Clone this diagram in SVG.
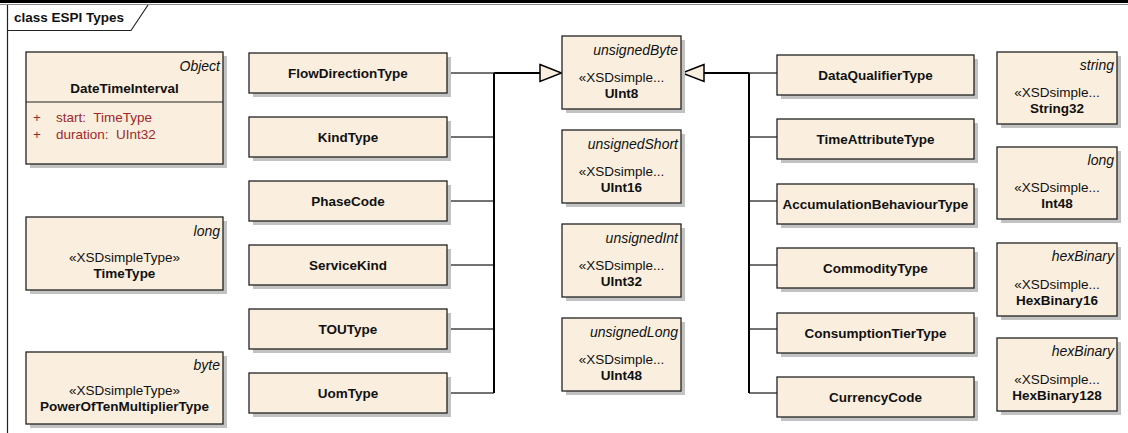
<svg xmlns="http://www.w3.org/2000/svg" width="1128" height="433" viewBox="0 0 1128 433">
<style>
.bx{fill:#FAEFDF;stroke:#222;stroke-width:1.3}
.sh{fill:#C2C2C2}
text{font-family:"Liberation Sans",Arial,sans-serif;font-size:13.5px;fill:#111;white-space:pre}
.b{font-weight:bold;text-anchor:middle;font-size:13.5px}
.s{text-anchor:middle}
.i{font-style:italic;text-anchor:end;font-size:14px}
.a{fill:#A0282A}
.ln{stroke:#444;stroke-width:1.3;fill:none}
.bus{stroke:#000;stroke-width:2;fill:none}
.tri{fill:#FAEFDF;stroke:#000;stroke-width:1.5}
</style>
<rect width="1128" height="433" fill="#fff"/>
<g id="frame">
<rect x="0" y="0" width="1128" height="3" fill="#000"/>
<line x1="0" y1="4.5" x2="1128" y2="4.5" stroke="#8a8a8a" stroke-width="1"/>
<line x1="7.5" y1="5" x2="7.5" y2="433" stroke="#222" stroke-width="1.2"/>
<polyline points="7,30.5 131,30.5 148,5" fill="none" stroke="#222" stroke-width="1.2"/>
<text x="14" y="22" style="font-weight:bold;font-size:13.5px">class ESPI Types</text>
</g>
<g id="connectors">
<path class="ln" d="M447,73H494M447,137H494M447,201H494M447,265H494M447,329H494M447,393H494"/>
<path class="bus" d="M494,73V393M494,73H540"/>
<polygon class="tri" points="540,64.5 561.5,73 540,81.5"/>
<path class="ln" d="M749,73H777M749,137H777M749,201H777M749,265H777M749,329H777M749,393H777"/>
<path class="bus" d="M749,73V393M749,73H704"/>
<polygon class="tri" points="704,64.5 682,73 704,81.5"/>
</g>
<g id="DateTimeInterval">
<rect class="sh" x="30" y="56" width="197" height="112"/>
<rect class="bx" x="26" y="52" width="197" height="112"/>
<line x1="26" y1="102" x2="223" y2="102" stroke="#222" stroke-width="1.2"/>
<text class="i" x="220" y="71">Object</text>
<text class="b" x="124.5" y="92.5">DateTimeInterval</text>
<text class="a" x="33" y="121.5">+</text>
<text class="a" x="56" y="121.5">start:  TimeType</text>
<text class="a" x="33" y="138.5">+</text>
<text class="a" x="56" y="138.5">duration:  UInt32</text>
</g>
<g id="TimeType">
<rect class="sh" x="30" y="221" width="197" height="73"/>
<rect class="bx" x="26" y="217" width="197" height="73"/>
<text class="i" x="220" y="236">long</text>
<text class="s" x="124.5" y="262">«XSDsimpleType»</text>
<text class="b" x="124.5" y="278">TimeType</text>
</g>
<g id="PowerOfTenMultiplierType">
<rect class="sh" x="30" y="356" width="197" height="72"/>
<rect class="bx" x="26" y="352" width="197" height="72"/>
<text class="i" x="220" y="370">byte</text>
<text class="s" x="124.5" y="395">«XSDsimpleType»</text>
<text class="b" x="124.5" y="411">PowerOfTenMultiplierType</text>
</g>
<g id="FlowDirectionType">
<rect class="sh" x="253" y="57" width="198" height="40"/>
<rect class="bx" x="249" y="53" width="198" height="40"/>
<text class="b" x="348" y="77.5">FlowDirectionType</text>
</g>
<g id="KindType">
<rect class="sh" x="253" y="121" width="198" height="40"/>
<rect class="bx" x="249" y="117" width="198" height="40"/>
<text class="b" x="348" y="141.5">KindType</text>
</g>
<g id="PhaseCode">
<rect class="sh" x="253" y="185" width="198" height="40"/>
<rect class="bx" x="249" y="181" width="198" height="40"/>
<text class="b" x="348" y="205.5">PhaseCode</text>
</g>
<g id="ServiceKind">
<rect class="sh" x="253" y="249" width="198" height="40"/>
<rect class="bx" x="249" y="245" width="198" height="40"/>
<text class="b" x="348" y="269.5">ServiceKind</text>
</g>
<g id="TOUType">
<rect class="sh" x="253" y="313" width="198" height="40"/>
<rect class="bx" x="249" y="309" width="198" height="40"/>
<text class="b" x="348" y="333.5">TOUType</text>
</g>
<g id="UomType">
<rect class="sh" x="253" y="377" width="198" height="40"/>
<rect class="bx" x="249" y="373" width="198" height="40"/>
<text class="b" x="348" y="397.5">UomType</text>
</g>
<g id="UInt8">
<rect class="sh" x="566" y="40" width="119" height="73"/>
<rect class="bx" x="562" y="36" width="119" height="73"/>
<text class="i" x="678" y="55">unsignedByte</text>
<text class="s" x="621.5" y="81.5">«XSDsimple...</text>
<text class="b" x="621.5" y="97.5">UInt8</text>
</g>
<g id="UInt16">
<rect class="sh" x="566" y="134" width="119" height="73"/>
<rect class="bx" x="562" y="130" width="119" height="73"/>
<text class="i" x="678" y="149">unsignedShort</text>
<text class="s" x="621.5" y="175.5">«XSDsimple...</text>
<text class="b" x="621.5" y="191.5">UInt16</text>
</g>
<g id="UInt32">
<rect class="sh" x="566" y="228" width="119" height="73"/>
<rect class="bx" x="562" y="224" width="119" height="73"/>
<text class="i" x="678" y="243">unsignedInt</text>
<text class="s" x="621.5" y="269.5">«XSDsimple...</text>
<text class="b" x="621.5" y="285.5">UInt32</text>
</g>
<g id="UInt48">
<rect class="sh" x="566" y="322" width="119" height="73"/>
<rect class="bx" x="562" y="318" width="119" height="73"/>
<text class="i" x="678" y="337">unsignedLong</text>
<text class="s" x="621.5" y="363.5">«XSDsimple...</text>
<text class="b" x="621.5" y="379.5">UInt48</text>
</g>
<g id="DataQualifierType">
<rect class="sh" x="781" y="59" width="197" height="40"/>
<rect class="bx" x="777" y="55" width="197" height="40"/>
<text class="b" x="875.5" y="79.5">DataQualifierType</text>
</g>
<g id="TimeAttributeType">
<rect class="sh" x="781" y="123" width="197" height="40"/>
<rect class="bx" x="777" y="119" width="197" height="40"/>
<text class="b" x="875.5" y="143.5">TimeAttributeType</text>
</g>
<g id="AccumulationBehaviourType">
<rect class="sh" x="781" y="188" width="197" height="40"/>
<rect class="bx" x="777" y="184" width="197" height="40"/>
<text class="b" x="875.5" y="208.5">AccumulationBehaviourType</text>
</g>
<g id="CommodityType">
<rect class="sh" x="781" y="252" width="197" height="40"/>
<rect class="bx" x="777" y="248" width="197" height="40"/>
<text class="b" x="875.5" y="272.5">CommodityType</text>
</g>
<g id="ConsumptionTierType">
<rect class="sh" x="781" y="317" width="197" height="40"/>
<rect class="bx" x="777" y="313" width="197" height="40"/>
<text class="b" x="875.5" y="337.5">ConsumptionTierType</text>
</g>
<g id="CurrencyCode">
<rect class="sh" x="781" y="381" width="197" height="40"/>
<rect class="bx" x="777" y="377" width="197" height="40"/>
<text class="b" x="875.5" y="401.5">CurrencyCode</text>
</g>
<g id="String32">
<rect class="sh" x="1001" y="56" width="120" height="72"/>
<rect class="bx" x="997" y="52" width="120" height="72"/>
<text class="i" x="1114" y="70">string</text>
<text class="s" x="1057" y="96.5">«XSDsimple...</text>
<text class="b" x="1057" y="112.5">String32</text>
</g>
<g id="Int48">
<rect class="sh" x="1001" y="151" width="120" height="72"/>
<rect class="bx" x="997" y="147" width="120" height="72"/>
<text class="i" x="1114" y="165">long</text>
<text class="s" x="1057" y="191.5">«XSDsimple...</text>
<text class="b" x="1057" y="207.5">Int48</text>
</g>
<g id="HexBinary16">
<rect class="sh" x="1001" y="247" width="120" height="73"/>
<rect class="bx" x="997" y="243" width="120" height="73"/>
<text class="i" x="1114" y="261">hexBinary</text>
<text class="s" x="1057" y="288.5">«XSDsimple...</text>
<text class="b" x="1057" y="304.5">HexBinary16</text>
</g>
<g id="HexBinary128">
<rect class="sh" x="1001" y="342" width="120" height="73"/>
<rect class="bx" x="997" y="338" width="120" height="73"/>
<text class="i" x="1114" y="356">hexBinary</text>
<text class="s" x="1057" y="383.5">«XSDsimple...</text>
<text class="b" x="1057" y="399.5">HexBinary128</text>
</g>
</svg>
